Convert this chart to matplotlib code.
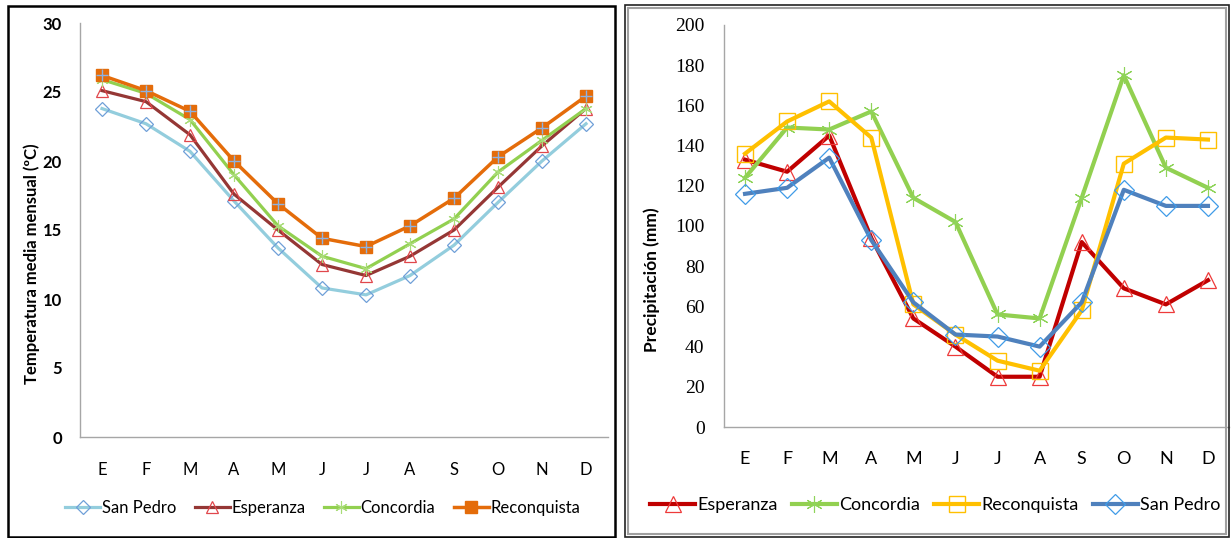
import matplotlib
matplotlib.use('Agg')
import matplotlib.pyplot as plt
from matplotlib.patches import Rectangle
from matplotlib.font_manager import FontProperties

meses = ['E', 'F', 'M', 'A', 'M', 'J', 'J', 'A', 'S', 'O', 'N', 'D']

# temperatura media mensual (ºC)
t_san_pedro = [23.8, 22.7, 20.7, 17.1, 13.7, 10.8, 10.3, 11.7, 13.9, 17.0, 20.0, 22.7]
t_esperanza = [25.1, 24.3, 21.9, 17.6, 15.0, 12.5, 11.7, 13.1, 15.0, 18.1, 21.1, 23.8]
t_concordia = [25.9, 24.9, 23.0, 19.0, 15.3, 13.1, 12.2, 14.0, 15.8, 19.2, 21.5, 23.8]
t_reconquista = [26.2, 25.1, 23.6, 20.0, 16.9, 14.4, 13.8, 15.3, 17.3, 20.3, 22.4, 24.7]
t_ticks = [0, 5, 10, 15, 20, 25, 30]

# precipitacion (mm)
p_esperanza = [133, 127, 145, 94, 54, 40, 25, 25, 92, 69, 61, 73]
p_concordia = [124, 149, 148, 157, 114, 102, 56, 54, 114, 175, 129, 119]
p_reconquista = [136, 152, 162, 144, 61, 46, 33, 28, 58, 131, 144, 143]
p_san_pedro = [116, 119, 134, 93, 62, 46, 45, 40, 62, 118, 110, 110]
p_ticks = list(range(0, 201, 20))

NARROW = ['Lato', 'DejaVu Sans']
serif_fp = FontProperties(family='Liberation Serif', size=14)
ASTER = (6, 2, 0)

fig = plt.figure(figsize=(12.31, 5.38), dpi=100)
W, H = 1231, 538

def px_axes(x0, y0, x1, y1):
    return fig.add_axes([x0 / W, 1 - y1 / H, (x1 - x0) / W, (y1 - y0) / H])

def style(ax):
    for s in ['top', 'right']:
        ax.spines[s].set_visible(False)
    for s in ['left', 'bottom']:
        ax.spines[s].set_color('#a6a6a6')
        ax.spines[s].set_linewidth(1.0)
    ax.tick_params(length=0)
    ax.set_xlim(-0.5, 11.5)

x = list(range(12))

# ---- left: temperatura
ax1 = px_axes(80, 23, 608, 437)
style(ax1)
ax1.plot(x, t_san_pedro, color='#93cddd', lw=2.3, marker='D', ms=7,
         mfc='none', mec='#6f9fd8', mew=0.9, label='San Pedro')
ax1.plot(x, t_esperanza, color='#953735', lw=2.3, marker='^', ms=9,
         mfc='none', mec='#e0474c', mew=0.9, label='Esperanza')
ax1.plot(x, t_concordia, color='#92d050', lw=2.3, marker=ASTER, ms=9,
         mec='#a9dc78', mew=0.8, label='Concordia')
ax1.plot(x, t_reconquista, color='#e46c0a', lw=2.5, marker='s', ms=9,
         mfc='#e46c0a', mec='#e46c0a', label='Reconquista')
ax1.plot(x, t_reconquista, ls='none', marker='+', ms=9, mec='#8db3e2', mew=1.0)
ax1.set_ylim(0, 30)
ax1.set_yticks(t_ticks, labels=[str(v) for v in t_ticks], family=NARROW,
               fontsize=12, fontweight='bold')
ax1.set_xticks(x, labels=meses, family=NARROW, fontsize=12)
ax1.tick_params(axis='y', pad=13)
ax1.tick_params(axis='x', pad=18)
ax1.set_ylabel('Temperatura media mensual (ºC)', family=NARROW, fontsize=12,
               fontweight='bold')
ax1.yaxis.set_label_coords(-0.076, 0.418)
h1, l1 = ax1.get_legend_handles_labels()
ax1.legend(h1[:4], l1[:4], loc='center', bbox_to_anchor=(0.46, -0.172), ncol=4,
           frameon=False, prop={'family': NARROW, 'size': 12}, handlelength=2.1,
           handletextpad=0.1, columnspacing=1.1)

# ---- right: precipitacion
ax2 = px_axes(724, 25, 1229, 427)
style(ax2)
ax2.plot(x, p_esperanza, color='#c00000', lw=3, marker='^', ms=11,
         mfc='none', mec='#ee3a3a', mew=0.9, label='Esperanza')
ax2.plot(x, p_concordia, color='#92d050', lw=3, marker=ASTER, ms=12,
         mec='#8fd45a', mew=0.8, label='Concordia')
ax2.plot(x, p_reconquista, color='#ffc000', lw=3, marker='s', ms=12,
         mfc='none', mec='#ffc000', mew=1.0, label='Reconquista')
ax2.plot(x, p_san_pedro, color='#4f81bd', lw=3, marker='D', ms=10,
         mfc='none', mec='#3f9be8', mew=0.9, label='San Pedro')
ax2.set_ylim(0, 200)
ax2.set_yticks(p_ticks, labels=[str(v) for v in p_ticks])
for lab in ax2.get_yticklabels():
    lab.set_fontproperties(serif_fp)
ax2.set_xticks(x, labels=meses, family=NARROW, fontsize=13)
ax2.tick_params(axis='y', pad=14)
ax2.tick_params(axis='x', pad=17)
ax2.set_ylabel('Precipitación (mm)', family=NARROW, fontsize=12.5, fontweight='bold')
ax2.yaxis.set_label_coords(-0.127, 0.366)
ax2.legend(loc='center', bbox_to_anchor=(0.418, -0.195), ncol=4, frameon=False,
           prop={'family': NARROW, 'size': 13}, handlelength=2.5,
           handletextpad=0.1, columnspacing=0.8)

# frames around both panels
fig.add_artist(Rectangle((8 / W, 1 - 537 / H), (615 - 8) / W, (537 - 6) / H,
                         transform=fig.transFigure, fill=False, ec='black', lw=1.8))
fig.add_artist(Rectangle((625 / W, 1 - 537 / H), (1229 - 625) / W, (537 - 5) / H,
                         transform=fig.transFigure, fill=False, ec='#222222', lw=1.2))
fig.add_artist(Rectangle((628 / W, 1 - 534 / H), (1226 - 628) / W, (534 - 8) / H,
                         transform=fig.transFigure, fill=False, ec='#a0a0a0', lw=1.5))

fig.savefig('out.png', dpi=100)
